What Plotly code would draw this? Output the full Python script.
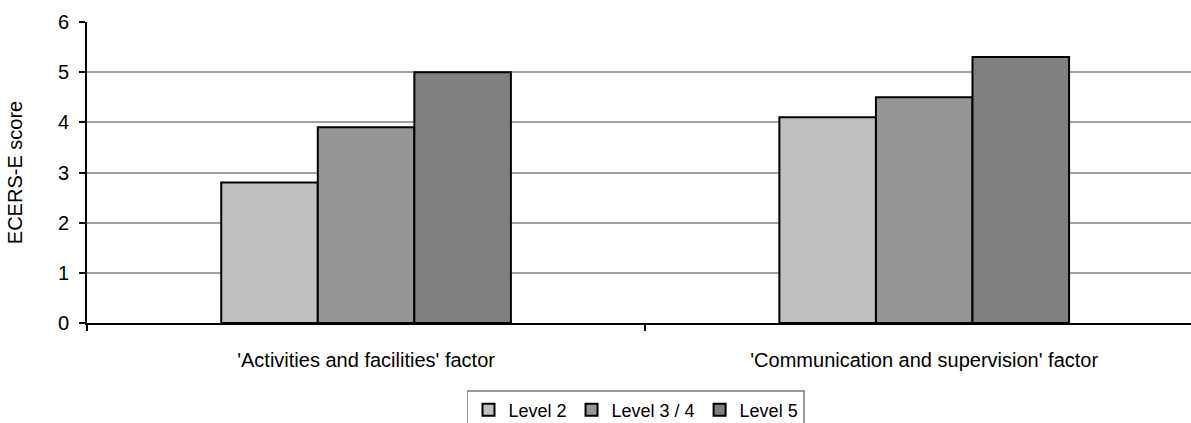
import plotly.graph_objects as go

# ECERS-E factor scores by staff qualification level
factors = ["'Activities and facilities' factor", "'Communication and supervision' factor"]
levels = ["Level 2", "Level 3 / 4", "Level 5"]
level2 = [2.8, 4.1]
level34 = [3.9, 4.5]
level5 = [5.0, 5.3]
y_ticks = [0, 1, 2, 3, 4, 5, 6]

colors = ["#c0c0c0", "#969696", "#808080"]
series = [level2, level34, level5]

fig = go.Figure()
for name, vals, col in zip(levels, series, colors):
    fig.add_trace(go.Bar(
        x=factors, y=vals, name=name,
        marker=dict(color=col, line=dict(color="black", width=2)),
    ))

font = dict(family="Liberation Sans, Arial, sans-serif", size=20, color="black")
legend_font = dict(font, size=18)

fig.update_layout(
    width=1191, height=423,
    margin=dict(l=87, r=0, t=22, b=100, autoexpand=False),
    paper_bgcolor="white", plot_bgcolor="white",
    font=font,
    barmode="group", bargap=0.481, bargroupgap=0,
    showlegend=True,
    legend=dict(
        orientation="h", xref="container", x=0.534, xanchor="center",
        yref="container", y=1 - 390 / 423, yanchor="top",
        bordercolor="#999999", borderwidth=1.5, bgcolor="white",
        font=legend_font, itemwidth=30, traceorder="normal",
    ),
    xaxis=dict(
        type="category", range=[-0.5, 1.478], automargin=False,
        showline=True, linecolor="black", linewidth=2,
        ticks="outside", tickson="boundaries", ticklen=6, tickwidth=2, tickcolor="black",
        showgrid=False, tickfont=font, fixedrange=True, ticklabelstandoff=18,
    ),
    yaxis=dict(
        range=[0, 6], tickvals=y_ticks, automargin=False,
        showline=True, linecolor="black", linewidth=2,
        ticks="outside", ticklen=6, tickwidth=1.5, tickcolor="black",
        showgrid=True, gridcolor="#a0a0a0", gridwidth=2,
        zeroline=False, tickfont=font, ticklabelstandoff=6,
        title=dict(text="ECERS-E score", font=font, standoff=30),
    ),
)

fig.write_html("out.html")
